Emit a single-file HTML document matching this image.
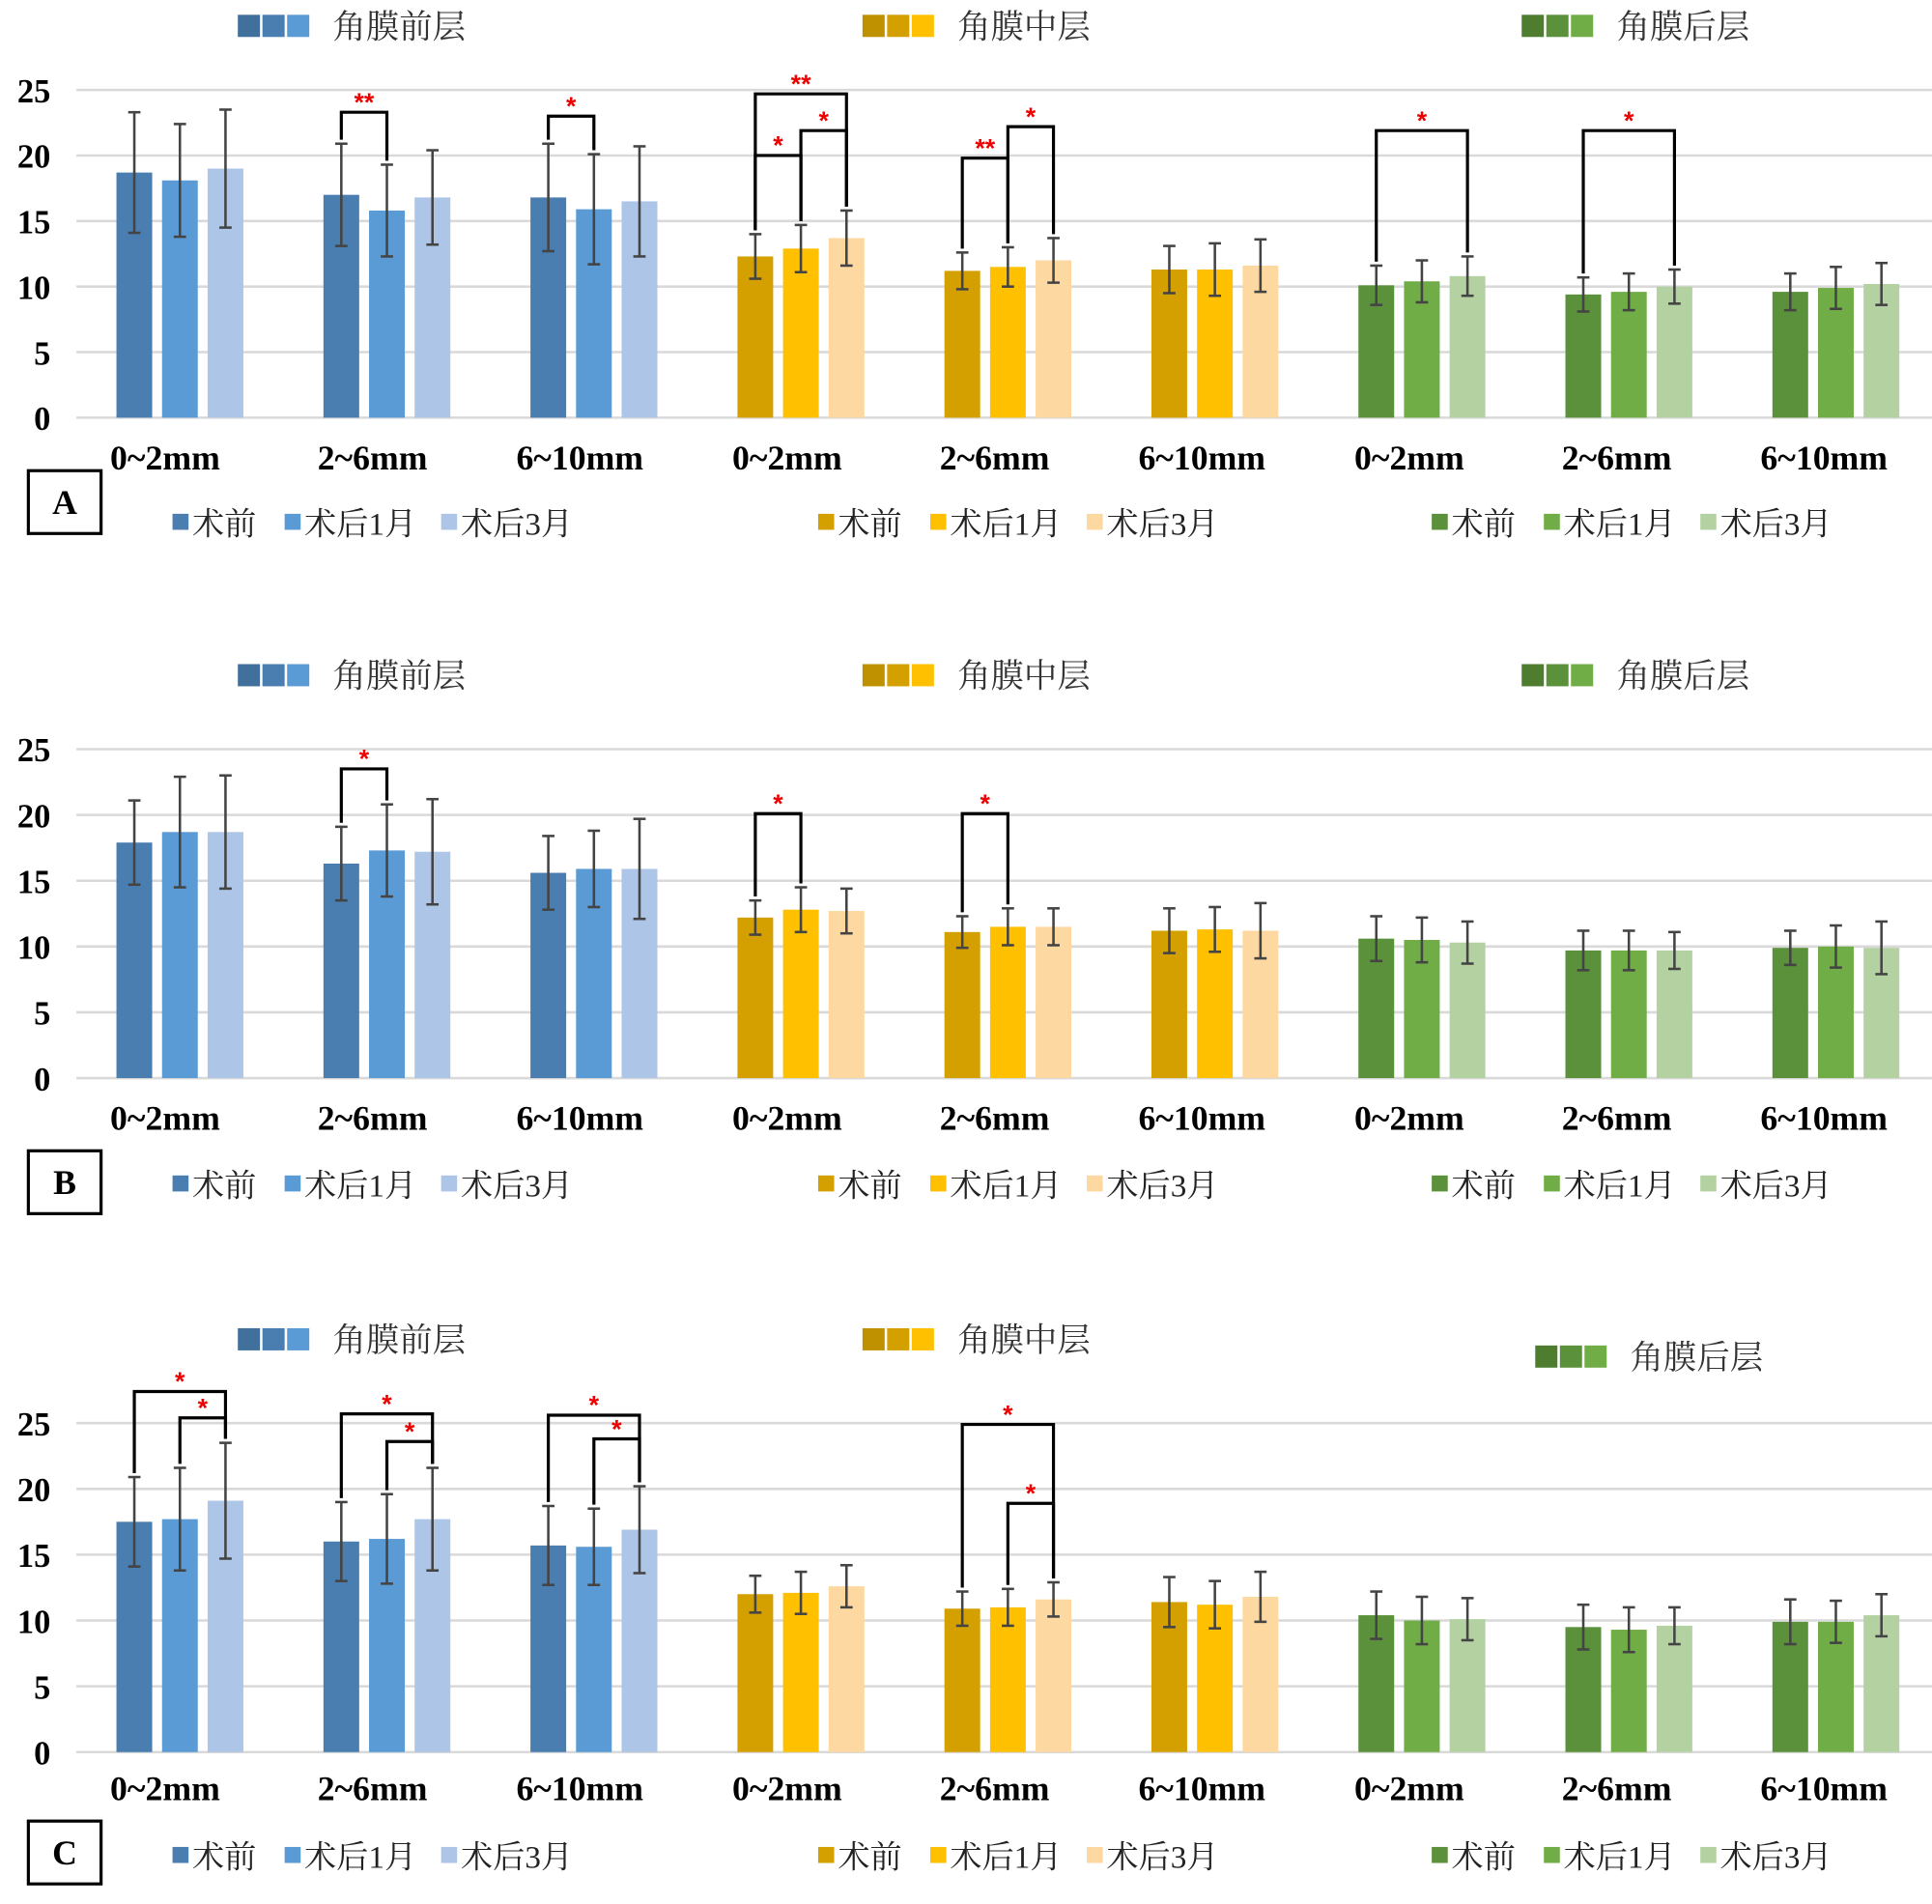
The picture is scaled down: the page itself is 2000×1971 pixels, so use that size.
<!DOCTYPE html>
<html><head><meta charset="utf-8">
<style>
html,body{margin:0;padding:0;background:#fff;}
svg{display:block;}
.tick{font-family:"Liberation Serif","Noto Serif CJK SC",serif;font-weight:bold;font-size:27px;fill:#000;}
.xl{font-family:"Liberation Serif","Noto Serif CJK SC",serif;font-weight:bold;font-size:28px;fill:#000;}
.lg{font-family:"Liberation Serif","Noto Serif CJK SC",serif;font-size:26px;fill:#222;}
.tl{font-family:"Liberation Serif","Noto Serif CJK SC",serif;font-size:27px;fill:#333;}
.star{font-family:"Liberation Sans",sans-serif;font-weight:bold;font-size:21px;fill:#e00;}
</style></head>
<body>
<svg id="fig" width="2000" height="1971" viewBox="0 0 1568 1545.3" xmlns="http://www.w3.org/2000/svg"></svg>
<script>
// ---- data ----
const categories = ["0~2mm","2~6mm","6~10mm","0~2mm","2~6mm","6~10mm","0~2mm","2~6mm","6~10mm"];
const seriesNames = ["术前","术后1月","术后3月"];
const yTicks = [0,5,10,15,20,25];
const panelLabels = ["A","B","C"];
const layerNames = ["角膜前层","角膜中层","角膜后层"];
const meansA = [[18.7,18.1,19.0],[17.0,15.8,16.8],[16.8,15.9,16.5],[12.3,12.9,13.7],[11.2,11.5,12.0],[11.3,11.3,11.6],[10.1,10.4,10.8],[9.4,9.6,10.0],[9.6,9.9,10.2]];
const errsA  = [[4.6,4.3,4.5],[3.9,3.5,3.6],[4.1,4.2,4.2],[1.7,1.8,2.1],[1.4,1.5,1.7],[1.8,2.0,2.0],[1.5,1.6,1.5],[1.3,1.4,1.3],[1.4,1.6,1.6]];
const meansB = [[17.9,18.7,18.7],[16.3,17.3,17.2],[15.6,15.9,15.9],[12.2,12.8,12.7],[11.1,11.5,11.5],[11.2,11.3,11.2],[10.6,10.5,10.3],[9.7,9.7,9.7],[9.9,10.0,9.9]];
const errsB  = [[3.2,4.2,4.3],[2.8,3.5,4.0],[2.8,2.9,3.8],[1.3,1.7,1.7],[1.2,1.4,1.4],[1.7,1.7,2.1],[1.7,1.7,1.6],[1.5,1.5,1.4],[1.3,1.6,2.0]];
const meansC = [[17.5,17.7,19.1],[16.0,16.2,17.7],[15.7,15.6,16.9],[12.0,12.1,12.6],[10.9,11.0,11.6],[11.4,11.2,11.8],[10.4,10.0,10.1],[9.5,9.3,9.6],[9.9,9.9,10.4]];
const errsC  = [[3.4,3.9,4.4],[3.0,3.4,3.9],[3.0,2.9,3.3],[1.4,1.6,1.6],[1.3,1.4,1.3],[1.9,1.8,1.9],[1.8,1.8,1.6],[1.7,1.7,1.4],[1.7,1.6,1.6]];
const sigA = [[1,0,1,23.3,"**"],[2,0,1,23.0,"*"],[3,0,2,24.7,"**"],[3,0,1,20.0,"*"],[3,1,2,21.9,"*"],[4,0,1,19.8,"**"],[4,1,2,22.2,"*"],[6,0,2,21.9,"*"],[7,0,2,21.9,"*"]];
const sigB = [[1,0,1,23.5,"*"],[3,0,1,20.1,"*"],[4,0,1,20.1,"*"]];
const sigC = [[0,0,2,27.4,"*"],[0,1,2,25.4,"*"],[1,0,2,25.7,"*"],[1,1,2,23.6,"*"],[2,0,2,25.6,"*"],[2,1,2,23.8,"*"],[4,0,2,24.9,"*"],[4,1,2,18.9,"*"]];

const barColors = [["#4a7eb1","#5b9bd5","#adc5e6"],["#d4a000","#ffc000","#fdd8a0"],["#5a913a","#70ad47","#b4d1a2"]];
const swatchColors = [["#41709c","#4a7eb1","#5b9bd5"],["#bf9000","#d4a000","#ffc000"],["#4e7d2f","#5a913a","#70ad47"]];
const panels = [
 {means:meansA,errs:errsA,sig:sigA,y0:339,y25:73,xl:371,leg:424,top:[21,21,21],topX:[193,700,1235],box:382},
 {means:meansB,errs:errsB,sig:sigB,y0:875,y25:608,xl:907,leg:961,top:[548,548,548],topX:[193,700,1235],box:934},
 {means:meansC,errs:errsC,sig:sigC,y0:1422,y25:1155,xl:1451,leg:1506,top:[1087,1087,1101],topX:[193,700,1246],box:1478}
];
const NS="http://www.w3.org/2000/svg";
const svg=document.getElementById('fig');
function mk(tag,attrs,parent,text){const e=document.createElementNS(NS,tag);for(const k in attrs)e.setAttribute(k,attrs[k]);if(text!==undefined)e.textContent=text;(parent||svg).appendChild(e);return e;}
const catCenter=i=>146+168*i;
const labelCenter=i=>134+168.3*i;
const barX=(c,s)=>catCenter(c)+(s-1)*37;
const BW=29;
const legX=[[140,231,358],[664,755,882],[1162,1253,1380]];

panels.forEach((p,pi)=>{
  const g=mk('g',{});
  
  
  const sy=v=>p.y0-(p.y0-p.y25)*v/25;
  yTicks.forEach(t=>{
    const l=mk('line',{x1:62,x2:1568,y1:sy(t),y2:sy(t),stroke:'#d9d9d9','stroke-width':2},g);
    
    
    const tx=mk('text',{x:41,y:sy(t)+10,'text-anchor':'end',class:'tick'},g,String(t));
    
    
  });
  p.means.forEach((row,c)=>{
    const layer=Math.floor(c/3);
    row.forEach((v,s)=>{
      const x=barX(c,s);
      const r=mk('rect',{x:x-BW/2,y:sy(v),width:BW,height:sy(0)-sy(v),fill:barColors[layer][s]},g);
      
      
      const e=p.errs[c][s];
      const eg=mk('g',{stroke:'#444','stroke-width':2},g);
      
      
      mk('line',{x1:x,x2:x,y1:sy(v+e),y2:sy(v-e)},eg);
      mk('line',{x1:x-5,x2:x+5,y1:sy(v+e),y2:sy(v+e)},eg);
      mk('line',{x1:x-5,x2:x+5,y1:sy(v-e),y2:sy(v-e)},eg);
    });
    const xl=mk('text',{x:labelCenter(c),y:p.xl+10,'text-anchor':'middle',class:'xl'},g,categories[c]);
    
    
  });
  p.sig.forEach(sg=>{
    const [c,a,b,top,lab]=sg;
    const xa=barX(c,a), xb=barX(c,b);
    const ba=sy(p.means[c][a]+p.errs[c][a]+0.3), bb=sy(p.means[c][b]+p.errs[c][b]+0.3);
    const br=mk('path',{d:`M${xa},${ba} L${xa},${sy(top)} L${xb},${sy(top)} L${xb},${bb}`,fill:'none',stroke:'#000','stroke-width':2.5},g);
    
    
    const st=mk('text',{x:(xa+xb)/2,y:sy(top)-1,'text-anchor':'middle',class:'star'},g,lab);
    
    
  });
  layerNames.forEach((nm,li)=>{
    const lg=mk('g',{},g);
    
    
    const x0=p.topX[li], yc=p.top[li];
    for(let k=0;k<3;k++) mk('rect',{x:x0+k*20,y:yc-9,width:18,height:18,fill:swatchColors[li][k]},lg);
    mk('text',{x:x0+77,y:yc+10,class:'tl'},lg,nm);
  });
  const bx=mk('g',{},g);
  
  
  mk('rect',{x:23,y:p.box,width:59,height:51,fill:'#fff',stroke:'#000','stroke-width':2.5},bx);
  mk('text',{x:52.5,y:p.box+35,'text-anchor':'middle',class:'xl'},bx,panelLabels[pi]);
  for(let li=0;li<3;li++){
    for(let s=0;s<3;s++){
      const le=mk('g',{},g);
      
      
      const x=legX[li][s];
      mk('rect',{x:x,y:p.leg-7,width:13,height:13,fill:barColors[li][s]},le);
      mk('text',{x:x+16,y:p.leg+10,class:'lg'},le,seriesNames[s]);
    }
  }
});
</script>
</body></html>
